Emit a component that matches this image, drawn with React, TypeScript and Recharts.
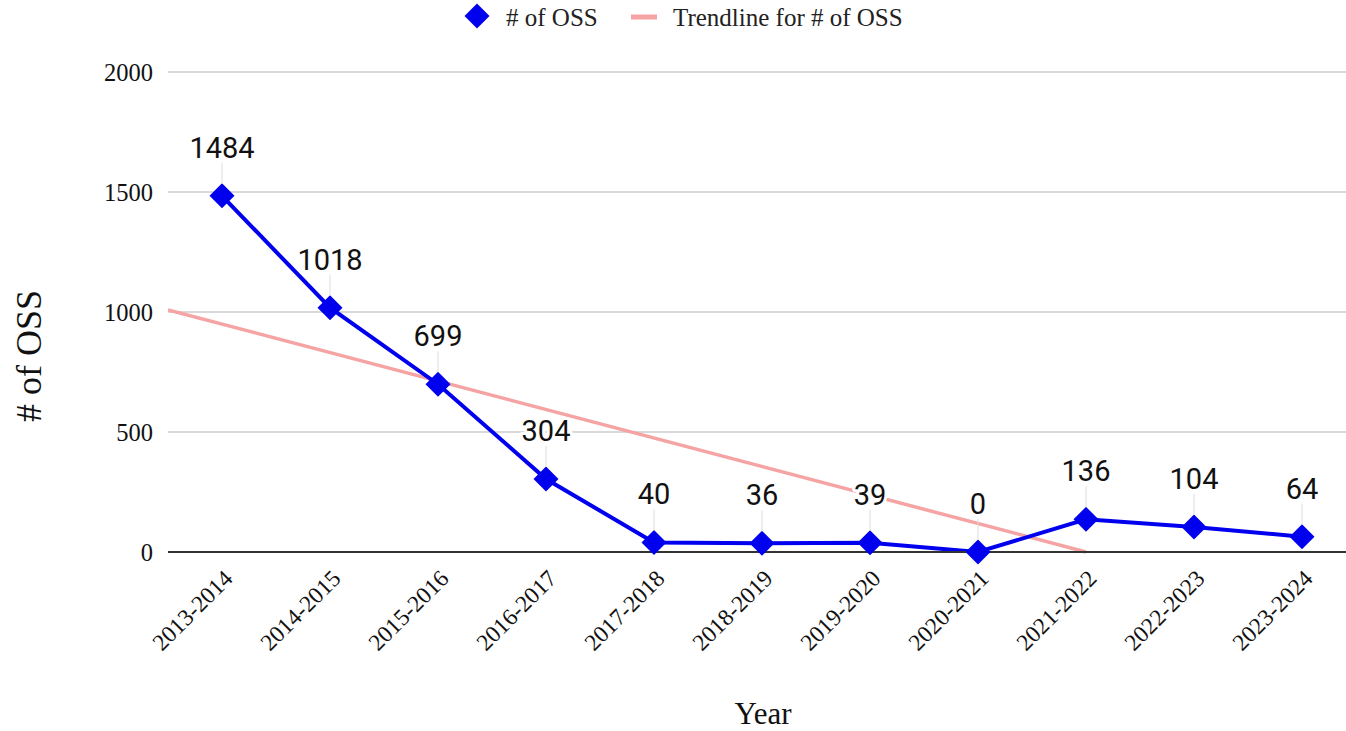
import React from 'react';
import { LineChart, Line, XAxis, YAxis, CartesianGrid, LabelList, Legend } from 'recharts';

const categories = [
  '2013-2014', '2014-2015', '2015-2016', '2016-2017', '2017-2018', '2018-2019',
  '2019-2020', '2020-2021', '2021-2022', '2022-2023', '2023-2024',
];
const ossCounts = [1484, 1018, 699, 304, 40, 36, 39, 0, 136, 104, 64];
// trendline endpoints (category index, value)
const trendX = [-0.5, 8];
const trendY = [1009, 0];
const yTicks = [0, 500, 1000, 1500, 2000];
const xTicks = categories.map((_, i) => i);

const data = categories.map((c, i) => ({ x: i, label: c, oss: ossCounts[i] }));
const trendData = trendX.map((x, i) => ({ x, trend: trendY[i] }));

const SERIF = '"Liberation Serif", "Times New Roman", Times, serif';
const SANS = 'Roboto, "Noto Sans", Arial, sans-serif';
const BLUE = '#0000ee';
const PINK = '#f5a3a3';

const Diamond = (props: any) => {
  const { cx, cy } = props;
  if (cx == null || cy == null) return null;
  const r = 12.5;
  return (
    <polygon
      points={`${cx},${cy - r} ${cx + r},${cy} ${cx},${cy + r} ${cx - r},${cy}`}
      fill={BLUE}
      stroke="none"
    />
  );
};

const DataLabel = (props: any) => {
  const { x, y, value } = props;
  if (x == null || y == null) return null;
  return (
    <g>
      <line x1={x} x2={x} y1={y - 33} y2={y - 12} stroke="#dddddd" strokeWidth={1} />
      <text
        x={x}
        y={y - 38}
        textAnchor="middle"
        fontFamily={SANS}
        fontSize={29}
        fill="#111"
        stroke="#fff"
        strokeWidth={6}
        paintOrder="stroke"
        strokeLinejoin="round"
      >
        {value}
      </text>
    </g>
  );
};

const XTick = (props: any) => {
  const { x, y, payload } = props;
  const px = x + 12;
  const py = y + 20;
  return (
    <text
      x={px}
      y={py}
      textAnchor="end"
      transform={`rotate(-45 ${px} ${py})`}
      fontFamily={SERIF}
      fontSize={23.5}
      fill="#111"
    >
      {categories[payload.value]}
    </text>
  );
};

const LegendContent = () => (
  <svg width={1346} height={40} style={{ display: 'block' }}>
    <polygon points="477,3.5 489.5,16 477,28.5 464.5,16" fill={BLUE} />
    <text x={506} y={26} fontFamily={SERIF} fontSize={25} fill="#222">
      # of OSS
    </text>
    <rect x={631} y={14.5} width={26} height={5} fill={PINK} />
    <text x={673} y={26} fontFamily={SERIF} fontSize={25} fill="#222">
      Trendline for # of OSS
    </text>
  </svg>
);

const YTitle = () => (
  <text
    x={0}
    y={0}
    transform="translate(41 356) rotate(-90)"
    textAnchor="middle"
    fontFamily={SERIF}
    fontSize={36}
    fill="#111"
  >
    # of OSS
  </text>
);

const XTitle = () => (
  <text x={763} y={724} textAnchor="middle" fontFamily={SERIF} fontSize={31} fill="#111">
    Year
  </text>
);

export default function App() {
  return (
    <div style={{ position: 'absolute', left: 0, top: 0, width: 1346, height: 731, overflow: 'hidden', background: '#fff' }}>
      <LineChart
        width={1356}
        height={731}
        data={data}
        margin={{ top: 32, right: 0, bottom: 0, left: 0 }}
      >
        <CartesianGrid horizontal vertical={false} stroke="#cccccc" strokeWidth={1.5} />
        <XAxis
          dataKey="x"
          type="number"
          domain={[-0.5, 10.5]}
          ticks={xTicks}
          interval={0}
          allowDataOverflow
          height={179}
          tickLine={false}
          axisLine={{ stroke: '#333', strokeWidth: 2 }}
          tick={<XTick />}
          label={{ content: <XTitle /> }}
        />
        <YAxis
          type="number"
          domain={[0, 2000]}
          ticks={yTicks}
          width={168}
          tickLine={false}
          axisLine={false}
          tickMargin={9}
          tick={{ fontFamily: SERIF, fontSize: 24.5, fill: '#111' }}
          label={{ content: <YTitle /> }}
        />
        <Legend
          verticalAlign="top"
          content={<LegendContent />}
          wrapperStyle={{ position: 'absolute', top: 0, left: 0, width: 1346, height: 40 }}
        />
        <Line
          data={trendData}
          dataKey="trend"
          name="Trendline for # of OSS"
          stroke={PINK}
          strokeWidth={3.5}
          dot={false}
          activeDot={false}
          isAnimationActive={false}
        />
        <Line
          dataKey="oss"
          name="# of OSS"
          stroke={BLUE}
          strokeWidth={4}
          dot={<Diamond />}
          activeDot={false}
          isAnimationActive={false}
        >
          <LabelList dataKey="oss" content={<DataLabel />} />
        </Line>
      </LineChart>
    </div>
  );
}
